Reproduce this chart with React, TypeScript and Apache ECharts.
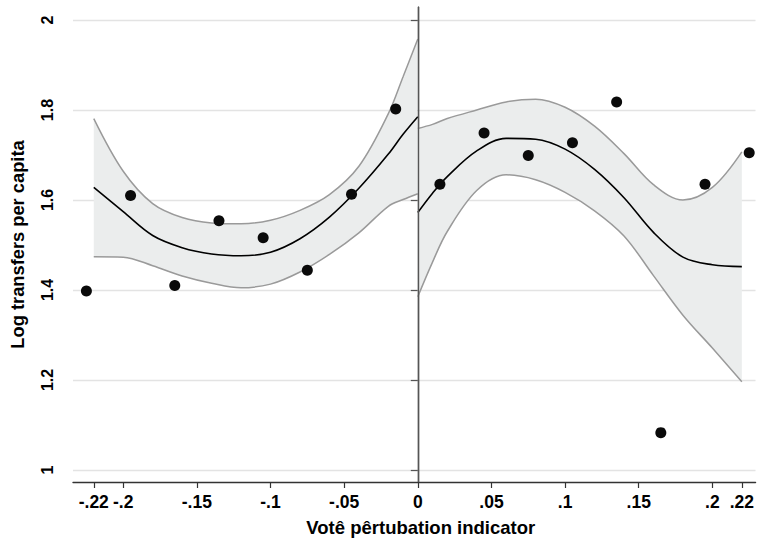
import React, { useEffect, useRef } from "react";
import * as echarts from "echarts";

// ---- data ----
const xTicks = [-0.22, -0.2, -0.15, -0.1, -0.05, 0, 0.05, 0.1, 0.15, 0.2, 0.22];
const yTicks = [1, 1.2, 1.4, 1.6, 1.8, 2];

// binned means
const binXL = [-0.225, -0.195, -0.165, -0.135, -0.105, -0.075, -0.045, -0.015];
const binYL = [1.398, 1.61, 1.41, 1.554, 1.516, 1.444, 1.613, 1.802];
const binXR = [0.015, 0.045, 0.075, 0.105, 0.135, 0.165, 0.195, 0.225];
const binYR = [1.635, 1.749, 1.699, 1.727, 1.818, 1.083, 1.635, 1.705];

// left-side fit and CI
const leftX = [-0.22, -0.2, -0.18, -0.16, -0.14, -0.12, -0.1, -0.08, -0.06, -0.04, -0.02, -0.01, 0];
const leftFit = [1.628, 1.574, 1.521, 1.494, 1.48, 1.476, 1.484, 1.514, 1.562, 1.626, 1.702, 1.746, 1.785];
const leftHi = [1.781, 1.664, 1.592, 1.561, 1.549, 1.547, 1.555, 1.577, 1.612, 1.675, 1.792, 1.874, 1.958];
const leftLo = [1.474, 1.473, 1.454, 1.431, 1.415, 1.405, 1.413, 1.44, 1.479, 1.527, 1.586, 1.601, 1.614];

// right-side fit and CI
const rightX = [0, 0.01, 0.02, 0.04, 0.06, 0.08, 0.1, 0.12, 0.14, 0.16, 0.18, 0.2, 0.22];
const rightFit = [1.572, 1.615, 1.652, 1.709, 1.737, 1.735, 1.713, 1.668, 1.605, 1.528, 1.473, 1.456, 1.452];
const rightHi = [1.759, 1.768, 1.781, 1.8, 1.818, 1.824, 1.806, 1.764, 1.703, 1.634, 1.6, 1.628, 1.707];
const rightLo = [1.385, 1.462, 1.53, 1.621, 1.656, 1.645, 1.617, 1.576, 1.52, 1.432, 1.344, 1.271, 1.196];

const xTitle = "Votê pêrtubation indicator";
const yTitle = "Log transfers per capita";

const FONT = "'Liberation Sans', Arial, Helvetica, sans-serif";
// rows stored as [y, x] so that the stack acts on y
const yxRows = (xs: number[], ys: number[]) => xs.map((x, i) => [ys[i], x]);
const zip = (xs: number[], ys: number[]) => xs.map((x, i) => [x, ys[i]]);
const fmt = (v: number) => {
  const s = String(Math.round(v * 1000) / 1000);
  return s.replace(/^(-?)0\./, "$1.");
};

export default function App() {
  const ref = useRef<HTMLDivElement>(null);
  useEffect(() => {
    if (!ref.current) return;
    const chart = echarts.init(ref.current, null, { renderer: "svg" });
    const bandFill = "#ebeded";
    const edge = "#9a9a9a";
    const smooth = 0.35;
    const mkBand = (id: string, xs: number[], lo: number[], hi: number[]) => [
      {
        type: "line",
        name: id + "lo",
        stack: id,
        data: yxRows(xs, lo),
        encode: { x: 1, y: 0 },
        smooth,
        showSymbol: false,
        symbol: "none",
        lineStyle: { color: edge, width: 1.5 },
        z: 3,
      },
      {
        type: "line",
        name: id + "band",
        stack: id,
        data: yxRows(xs, hi.map((h, i) => h - lo[i])),
        encode: { x: 1, y: 0 },
        smooth,
        showSymbol: false,
        symbol: "none",
        lineStyle: { color: edge, width: 1.5 },
        areaStyle: { color: bandFill, opacity: 1 },
        z: 2,
      },
    ];
    const mkFit = (xs: number[], ys: number[]) => ({
      type: "line",
      data: zip(xs, ys),
      smooth,
      showSymbol: false,
      symbol: "none",
      lineStyle: { color: "#000", width: 1.6 },
      z: 4,
    });
    chart.setOption({
      animation: false,
      backgroundColor: "#fff",
      grid: { left: 73, top: 7, right: 0, bottom: 60, containLabel: false },
      xAxis: {
        type: "value",
        min: -0.2341,
        max: 0.2293,
        name: xTitle,
        nameLocation: "middle",
        nameGap: 36,
        nameTextStyle: {
          fontFamily: FONT,
          fontSize: 18.5,
          fontWeight: "bold",
          color: "#000",
          padding: [0, 0, 0, 13],
        },
        axisLine: { show: true, lineStyle: { color: "#333", width: 1.4 } },
        axisTick: { show: true, length: 6, customValues: xTicks, lineStyle: { color: "#333", width: 1.2 } },
        axisLabel: {
          customValues: xTicks,
          formatter: (v: number) => fmt(v),
          fontFamily: FONT,
          fontSize: 17.5,
          fontWeight: "bold",
          color: "#000",
          margin: 11,
        },
        splitLine: { show: false },
      },
      yAxis: {
        type: "value",
        min: 0.9733,
        max: 2.0289,
        name: yTitle,
        nameLocation: "middle",
        nameGap: 47,
        nameTextStyle: { fontFamily: FONT, fontSize: 18.3, fontWeight: "bold", color: "#000" },
        axisLine: { show: true, lineStyle: { color: "#555", width: 1.4 } },
        axisTick: { show: true, length: 7, customValues: yTicks, lineStyle: { color: "#555", width: 1.2 } },
        axisLabel: {
          customValues: yTicks,
          formatter: (v: number) => fmt(v),
          rotate: 90,
          fontFamily: FONT,
          fontSize: 16,
          fontWeight: "bold",
          color: "#000",
          margin: 18,
        },
        splitLine: { show: true, lineStyle: { color: "#e3e3e3", width: 1.3 } },
      },
      series: [
        ...mkBand("L", leftX, leftLo, leftHi),
        ...mkBand("R", rightX, rightLo, rightHi),
        mkFit(leftX, leftFit),
        mkFit(rightX, rightFit),
        {
          type: "scatter",
          data: [...zip(binXL, binYL), ...zip(binXR, binYR)],
          symbol: "circle",
          symbolSize: 11,
          itemStyle: { color: "#0a0a0a", opacity: 1 },
          z: 5,
          markLine: {
            silent: true,
            symbol: "none",
            label: { show: false },
            lineStyle: { color: "#555", width: 1.4, type: "solid" },
            data: [{ xAxis: 0 }],
          },
        },
      ],
    });
    return () => chart.dispose();
  }, []);
  return (
    <div
      ref={ref}
      style={{ position: "fixed", left: 0, top: 0, width: 757, height: 542, background: "#fff" }}
    />
  );
}
